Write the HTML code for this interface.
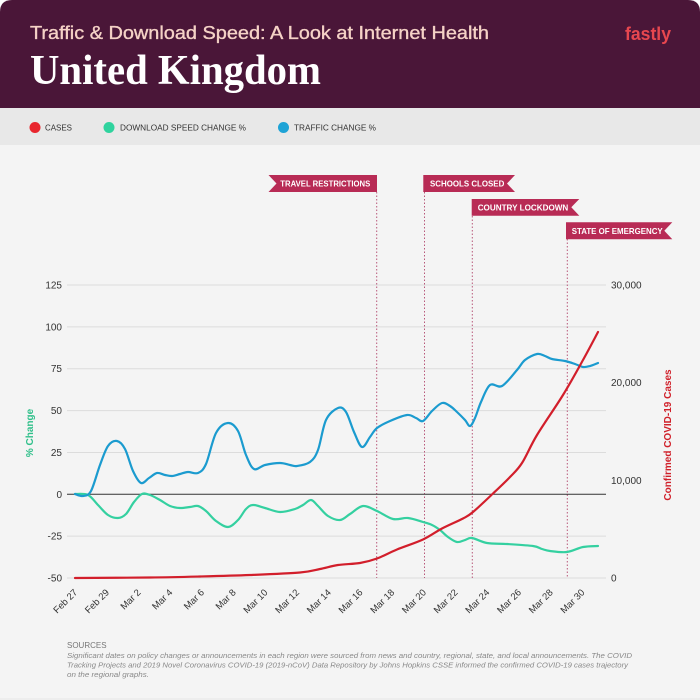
<!DOCTYPE html>
<html><head><meta charset="utf-8">
<style>
html,body{margin:0;padding:0;background:#fff;}
body{width:700px;height:700px;overflow:hidden;}
svg{display:block;}
text{font-family:"Liberation Sans",sans-serif;}
</style></head>
<body>
<svg id="s" width="700" height="700" viewBox="0 0 700 700" xmlns="http://www.w3.org/2000/svg">
  <path d="M0,12 Q0,0 12,0 L688,0 Q700,0 700,12 L700,700 L0,700 Z" fill="#f4f4f4"/>
  <path d="M0,12 Q0,0 12,0 L688,0 Q700,0 700,12 L700,108 L0,108 Z" fill="#4a1638"/>
  <text x="30" y="39" font-size="18.5" fill="#f5d2c6" stroke="#f5d2c6" stroke-width="0.35" textLength="459" lengthAdjust="spacingAndGlyphs">Traffic &amp; Download Speed: A Look at Internet Health</text>
  <text x="30" y="84" font-weight="bold" font-size="42" fill="#ffffff" textLength="291" lengthAdjust="spacingAndGlyphs" style="font-family:'Liberation Serif',serif">United Kingdom</text>
  <text x="625" y="40" font-size="18" font-weight="bold" fill="#e8474f" textLength="46" lengthAdjust="spacingAndGlyphs">fastly</text>
  <rect x="0" y="108" width="700" height="37" fill="#e8e8e8"/>
  <circle cx="35" cy="127.5" r="5.5" fill="#e8262e"/>
  <text x="45" y="130.5" font-size="8" fill="#333" textLength="27" lengthAdjust="spacingAndGlyphs">CASES</text>
  <circle cx="109" cy="127.5" r="5.5" fill="#2fd39e"/>
  <text x="120" y="130.5" font-size="8" fill="#333" textLength="126" lengthAdjust="spacingAndGlyphs">DOWNLOAD SPEED CHANGE %</text>
  <circle cx="283.5" cy="127.5" r="5.5" fill="#1ea3d6"/>
  <text x="294" y="130.5" font-size="8" fill="#333" textLength="82" lengthAdjust="spacingAndGlyphs">TRAFFIC CHANGE %</text>

  <g id="grid" stroke="#dcdcdc" stroke-width="1"></g>
  <g id="dots" stroke="#b8587a" stroke-width="1" stroke-dasharray="1.5,2">
    <line x1="376.7" y1="192" x2="376.7" y2="578"/>
    <line x1="424.5" y1="192" x2="424.5" y2="578"/>
    <line x1="472.3" y1="216" x2="472.3" y2="578"/>
    <line x1="567.3" y1="239" x2="567.3" y2="578"/>
  </g>
  <line x1="67" y1="494.3" x2="606" y2="494.3" stroke="#333" stroke-width="1"/>

  <g fill="#b82b55">
    <polygon points="268.5,175 377,175 377,192 268.5,192 276.5,183.5"/>
    <polygon points="423.3,175 515,175 507,183.5 515,192 423.3,192"/>
    <polygon points="471.7,199 579.3,199 571.3,207.3 579.3,215.7 471.7,215.7"/>
    <polygon points="566,222.3 672.3,222.3 664.3,230.8 672.3,239.3 566,239.3"/>
  </g>
  <g fill="#fff" font-size="8.5" font-weight="bold">
    <text x="280.3" y="186.5" textLength="90" lengthAdjust="spacingAndGlyphs">TRAVEL RESTRICTIONS</text>
    <text x="430" y="186.5" textLength="74.3" lengthAdjust="spacingAndGlyphs">SCHOOLS CLOSED</text>
    <text x="477.7" y="210.5" textLength="90.6" lengthAdjust="spacingAndGlyphs">COUNTRY LOCKDOWN</text>
    <text x="571.7" y="233.8" textLength="91" lengthAdjust="spacingAndGlyphs">STATE OF EMERGENCY</text>
  </g>

  <g id="ylab" font-size="10" fill="#333"></g>
  <g id="xlab" font-size="9.5" fill="#333"></g>

  <text transform="translate(33,433) rotate(-90)" text-anchor="middle" font-size="10" font-weight="bold" fill="#2fbf8a">% Change</text>
  <text transform="translate(671,435) rotate(-90)" text-anchor="middle" font-size="10" font-weight="bold" fill="#d0202a">Confirmed COVID-19 Cases</text>

  <path id="green" fill="none" stroke="#34d0a0" stroke-width="2.2" stroke-linejoin="round" stroke-linecap="round"/>
  <path id="blue" fill="none" stroke="#1b9bcf" stroke-width="2.2" stroke-linejoin="round" stroke-linecap="round"/>
  <path id="red" fill="none" stroke="#d21e2b" stroke-width="2.2" stroke-linejoin="round" stroke-linecap="round"/>

  <text x="67" y="648" font-size="8" fill="#777">SOURCES</text>
  <g font-size="7.2" font-style="italic" fill="#888">
    <text x="67" y="658" textLength="565" lengthAdjust="spacingAndGlyphs">Significant dates on policy changes or announcements in each region were sourced from news and country, regional, state, and local announcements. The COVID</text>
    <text x="67" y="667.5" textLength="561" lengthAdjust="spacingAndGlyphs">Tracking Projects and 2019 Novel Coronavirus COVID-19 (2019-nCoV) Data Repository by Johns Hopkins CSSE informed the confirmed COVID-19 cases trajectory</text>
    <text x="67" y="677" textLength="82" lengthAdjust="spacingAndGlyphs">on the regional graphs.</text>
  </g>
  <line x1="0" y1="699" x2="700" y2="699" stroke="#e6e6e6" stroke-width="1"/>
</svg>
<script>
(function(){
var NS="http://www.w3.org/2000/svg";
function el(n,a,t){var e=document.createElementNS(NS,n);for(var k in a)e.setAttribute(k,a[k]);if(t)e.textContent=t;return e;}
var grid=document.getElementById('grid'), ylab=document.getElementById('ylab'), xlab=document.getElementById('xlab');
var vals=[125,100,75,50,25,0,-25,-50];
vals.forEach(function(v){
  var y=494.3-v*1.6743;
  if(v!==0) grid.appendChild(el('line',{x1:67,y1:y,x2:606,y2:y}));
  ylab.appendChild(el('text',{x:62,y:y+3.5,'text-anchor':'end'},String(v)));
});
var r=[["30,000",285],["20,000",382.7],["10,000",480.3],["0",578]];
r.forEach(function(p){ylab.appendChild(el('text',{x:611,y:p[1]+3.5},p[0]));});
var labs=["Feb 27","Feb 29","Mar 2","Mar 4","Mar 6","Mar 8","Mar 10","Mar 12","Mar 14","Mar 16","Mar 18","Mar 20","Mar 22","Mar 24","Mar 26","Mar 28","Mar 30"];
labs.forEach(function(l,k){
  var x=75+2*k*15.85+3, y=593;
  xlab.appendChild(el('text',{x:x,y:y,'text-anchor':'end',transform:'rotate(-45 '+x+' '+y+')'},l));
});
function smooth(p){
  var d="M"+p[0][0]+","+p[0][1];
  for(var i=0;i<p.length-1;i++){
    var p0=p[i-1]||p[i],p1=p[i],p2=p[i+1],p3=p[i+2]||p2;
    var c1x=p1[0]+(p2[0]-p0[0])/6,c1y=p1[1]+(p2[1]-p0[1])/6;
    var c2x=p2[0]-(p3[0]-p1[0])/6,c2y=p2[1]-(p3[1]-p1[1])/6;
    d+=" C"+c1x.toFixed(2)+","+c1y.toFixed(2)+" "+c2x.toFixed(2)+","+c2y.toFixed(2)+" "+p2[0]+","+p2[1];
  }
  return d;
}
var blue=[[75,494],[83,496],[91,491],[100,465],[108,446],[117,441],[125,449],[133,471],[141,483],[149,478],[157,473],[165,475],[172,476],[180,474],[188,472],[198,473],[206,464],[216,433],[228,423],[238,431],[246,455],[254,469],[265,465],[280,463],[290,465],[297,466],[310,462],[318,450],[326,420],[338,408],[346,412],[354,432],[362,447],[370,437],[377,428],[390,421],[407,415],[416,418],[423,421],[432,411],[442,403],[450,406],[457,412],[465,420],[470,426],[475,418],[481,402],[490,385],[502,386],[517,370],[525,360],[537,354],[545,356],[552,359],[565,361],[575,364],[583,367],[590,366],[598,363]];
var green=[[75,494],[88,495],[98,505],[108,515],[118,518],[126,514],[134,502],[142,494],[150,495],[160,500],[170,506],[180,508],[190,507],[198,506],[206,511],[216,521],[228,527],[238,520],[246,509],[253,505],[265,508],[280,512],[295,509],[303,505],[311,500],[318,506],[328,516],[340,520],[350,514],[363,506],[377,511],[393,519],[408,518],[423,522],[432,525],[440,530],[448,537],[457,542],[465,540],[472,538],[487,543],[507,544],[533,546],[542,549],[550,551],[567,552],[583,547],[598,546]];
var red=[[75,578],[150,577.5],[200,576.5],[250,575],[300,572.5],[320,569],[338,565],[360,563],[377,558.5],[397,549.5],[423,539.5],[442,528.5],[463,518.5],[473,512],[493,493.5],[510,477],[522,463],[537,435],[563,395],[583,360],[598,332]];
document.getElementById('blue').setAttribute('d',smooth(blue));
document.getElementById('green').setAttribute('d',smooth(green));
document.getElementById('red').setAttribute('d',smooth(red));
})();
</script>
</body></html>
